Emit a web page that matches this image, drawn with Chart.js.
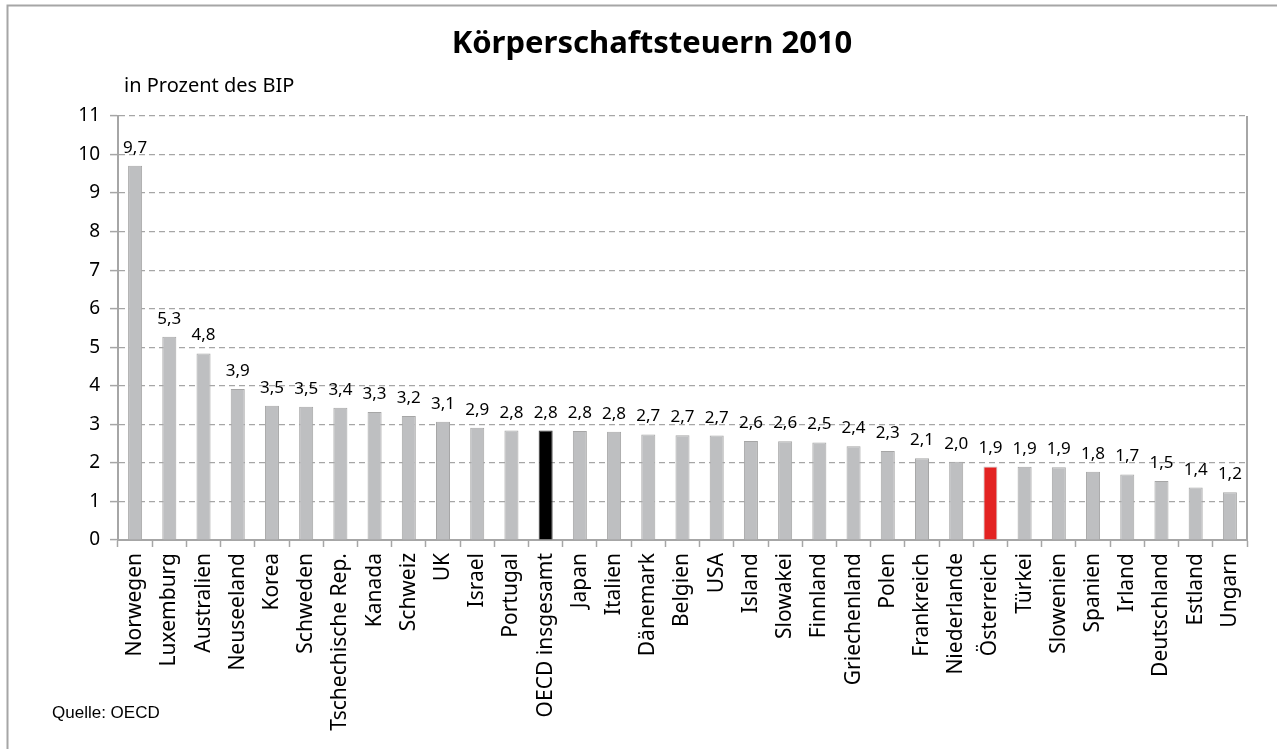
<!DOCTYPE html>
<html>
<head>
<meta charset="utf-8">
<script src="https://cdn.jsdelivr.net/npm/chart.js@4.4.1/dist/chart.umd.min.js"></script>
<style>
html,body{margin:0;padding:0;background:#fff;}
#wrap{width:1277px;height:749px;position:relative;}
</style>
</head>
<body>
<div id="wrap"><canvas id="c" width="1277" height="749"></canvas></div>
<script>
const categories = ["Norwegen","Luxemburg","Australien","Neuseeland","Korea","Schweden","Tschechische Rep.","Kanada","Schweiz","UK","Israel","Portugal","OECD insgesamt","Japan","Italien","Dänemark","Belgien","USA","Island","Slowakei","Finnland","Griechenland","Polen","Frankreich","Niederlande","Österreich","Türkei","Slowenien","Spanien","Irland","Deutschland","Estland","Ungarn"];
const values = [9.71,5.27,4.84,3.92,3.48,3.46,3.43,3.32,3.22,3.07,2.91,2.84,2.84,2.83,2.81,2.74,2.72,2.71,2.57,2.56,2.53,2.43,2.31,2.12,2.03,1.91,1.90,1.89,1.77,1.70,1.53,1.36,1.24];
const yTicks = [0,1,2,3,4,5,6,7,8,9,10,11];
const titleText = "Körperschaftsteuern 2010";
const unitText = "in Prozent des BIP";
const sourceText = "Quelle: OECD";
</script>
<script>
const FONT = "'Noto Sans', 'DejaVu Sans', sans-serif";
const barColors = categories.map(c => c === "OECD insgesamt" ? "#000000" : (c === "Österreich" ? "#e32322" : "#bebfc1"));
const barBorders = categories.map(c => c === "OECD insgesamt" ? "#3a3a3a" : (c === "Österreich" ? "#c8c8c8" : "#a6a6a6"));

const decor = {
  id: 'decor',
  beforeDraw(chart) {
    const ctx = chart.ctx;
    ctx.save();
    ctx.fillStyle = '#fff';
    ctx.fillRect(0,0,chart.width,chart.height);
    ctx.strokeStyle = '#a6a6a6';
    ctx.lineWidth = 2;
    ctx.strokeRect(7.5, 5.5, chart.width + 10, chart.height + 10);
    ctx.restore();
  },
  afterDraw(chart) {
    const ctx = chart.ctx;
    const area = chart.chartArea;
    ctx.save();
    ctx.strokeStyle = '#a6a6a6';
    ctx.lineWidth = 2;
    ctx.beginPath();
    ctx.moveTo(area.right, area.top);
    ctx.lineTo(area.right, area.bottom);
    ctx.stroke();
    ctx.fillStyle = '#000';
    ctx.textAlign = 'center';
    ctx.textBaseline = 'alphabetic';
    ctx.font = "bold 31px " + FONT;
    ctx.fillText(titleText, 652, 53);
    ctx.textAlign = 'left';
    ctx.font = "20px " + FONT;
    ctx.fillText(unitText, 124, 92);
    ctx.font = "17px 'Liberation Sans', Arial, sans-serif";
    ctx.fillText(sourceText, 52, 718);
    const meta = chart.getDatasetMeta(0);
    ctx.font = "17px " + FONT;
    ctx.textAlign = 'center';
    ctx.textBaseline = 'alphabetic';
    meta.data.forEach((bar, i) => {
      const txt = values[i].toFixed(1).replace('.', ',');
      ctx.fillText(txt, bar.x, bar.y - 13);
    });
    ctx.restore();
  }
};

new Chart(document.getElementById('c'), {
  type: 'bar',
  data: {
    labels: categories,
    datasets: [{
      data: values,
      backgroundColor: barColors,
      borderColor: barBorders,
      borderWidth: 1,
      barPercentage: 0.41,
      categoryPercentage: 1.0
    }]
  },
  options: {
    responsive: false,
    animation: false,
    devicePixelRatio: 1,
    layout: { padding: { top: 116, left: 0, right: 30, bottom: 0 } },
    plugins: { legend: { display: false }, title: { display: false }, tooltip: { enabled: false } },
    scales: {
      x: {
        afterFit(scale) { scale.height = 209; },
        grid: { display: true, drawOnChartArea: false, drawTicks: true, tickLength: 7, offset: true, tickColor: '#a6a6a6', tickWidth: 1.5 },
        border: { display: true, color: '#a6a6a6', width: 2 },
        ticks: { color: '#000', font: { family: FONT, size: 21 }, minRotation: 90, maxRotation: 90, autoSkip: false, padding: 6 }
      },
      y: {
        min: 0, max: 11,
        afterFit(scale) { scale.width = 118; },
        afterBuildTicks(scale) { scale.ticks = yTicks.map(v => ({ value: v })); },
        grid: { display: true, drawOnChartArea: true, drawTicks: true, tickLength: 8, color: '#a6a6a6', lineWidth: 1.2, tickColor: '#a6a6a6', tickWidth: 1.5 },
        border: { display: true, color: '#a6a6a6', width: 2, dash: [6, 4] },
        ticks: { color: '#000', font: { family: FONT, size: 19 }, padding: 10 }
      }
    }
  },
  plugins: [decor]
});
</script>
</body>
</html>
